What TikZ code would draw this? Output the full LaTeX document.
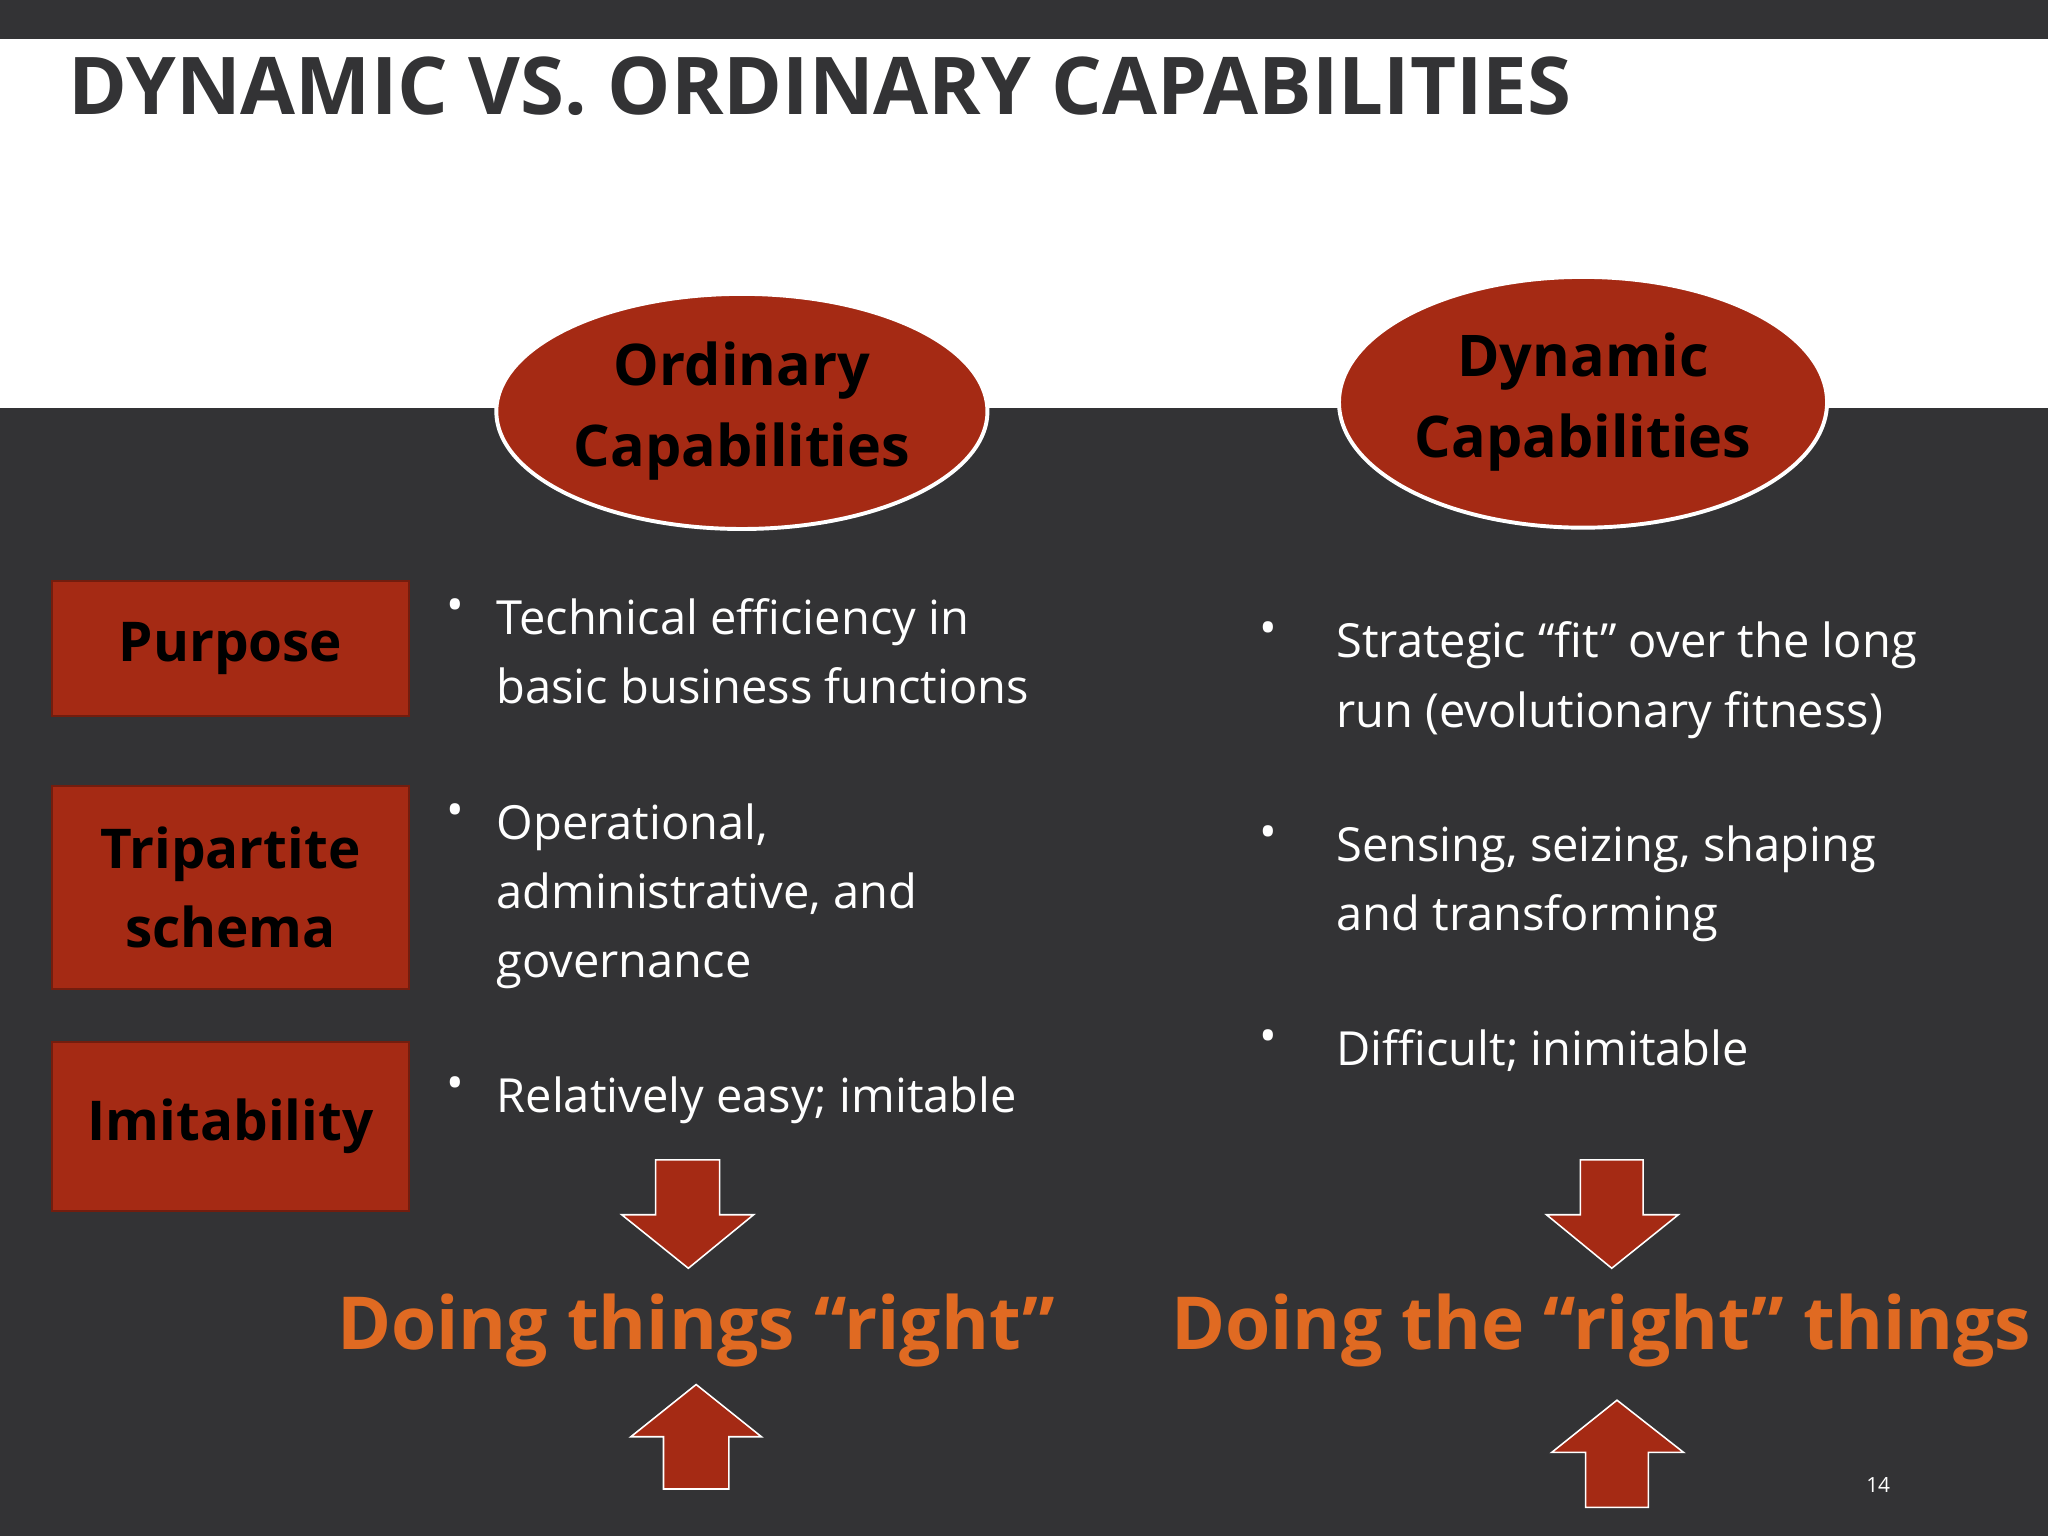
\documentclass[tikz,border=0pt]{standalone}
\usepackage{fontspec}
\setmainfont{Open Sans}
\usetikzlibrary{shapes.geometric}
\definecolor{dk}{HTML}{333335}
\definecolor{rb}{HTML}{A52A14}
\definecolor{og}{HTML}{E06A22}
\tikzset{
 ell/.style={draw=white,line width=3pt,fill=rb,ellipse,align=center,font=\fontsize{44}{62}\selectfont\bfseries,text=black},
 lbl/.style={draw=rb!70!black,line width=1.5pt,fill=rb,align=center,font=\fontsize{42}{60}\selectfont\bfseries,text=black,minimum width=273pt},
 bul/.style={anchor=north west,align=left,text=white,font=\fontsize{36}{53}\selectfont,inner sep=0pt},
 dot/.style={anchor=north west,text=white,font=\fontsize{36}{53}\selectfont,inner sep=0pt},
 arr/.style={fill=rb,draw=white,line width=1.2pt},
 big/.style={text=og,font=\fontsize{56}{60}\selectfont\bfseries}
}
\begin{document}
\begin{tikzpicture}[x=1pt,y=-1pt]
\useasboundingbox (0,0) rectangle (1568,1176);
\fill[dk] (0,0) rectangle (1568,30);
\fill[white] (0,30) rectangle (1568,312);
\fill[dk] (0,312) rectangle (1568,1176);
\node[anchor=base west,inner sep=0pt,text=dk,font=\fontsize{61}{61}\selectfont\bfseries] (title) at (52,88) {DYNAMIC VS. ORDINARY CAPABILITIES};
\node[ell,minimum width=376pt,minimum height=180pt] (oc) at (568,315) {Ordinary\\Capabilities};
\node[ell,minimum width=356pt,minimum height=192pt] (dc) at (1212,308) {Dynamic\\Capabilities};
\node[lbl,minimum height=103pt] (pur) at (176.5,496.5) {Purpose};
\node[lbl,minimum height=155pt] (tri) at (176.5,679.5) {Tripartite\\schema};
\node[lbl,minimum height=129pt] (imi) at (176.5,862.5) {Imitability};
% left bullets
\node[dot] (d1) at (342,458) {•};
\node[bul] (b1) at (380,458) {Technical efficiency in\\basic business functions};
\node[dot] (d2) at (342,615) {•};
\node[bul] (b2) at (380,615) {Operational,\\administrative, and\\governance};
\node[dot] (d3) at (342,824) {•};
\node[bul] (b3) at (380,824) {Relatively easy; imitable};
% right bullets
\node[dot] (e1) at (964,476) {•};
\node[bul] (c1) at (1023,476) {Strategic “fit” over the long\\run (evolutionary fitness)};
\node[dot] (e2) at (964,632) {•};
\node[bul] (c2) at (1023,632) {Sensing, seizing, shaping\\and transforming};
\node[dot] (e3) at (964,788) {•};
\node[bul] (c3) at (1023,788) {Difficult; inimitable};
% arrows
\draw[arr] (502,888)--(551,888)--(551,930)--(577,930)--(527,971)--(476,930)--(502,930)--cycle;
\draw[arr] (1210,888)--(1258,888)--(1258,930)--(1285,930)--(1234,971)--(1184,930)--(1210,930)--cycle;
\draw[arr] (508,1140)--(558,1140)--(558,1100)--(583,1100)--(533,1060)--(483,1100)--(508,1100)--cycle;
\draw[arr] (1214,1154)--(1262,1154)--(1262,1112)--(1289,1112)--(1238,1072)--(1188,1112)--(1214,1112)--cycle;
\node[big,anchor=base] (t1) at (533,1033) {Doing things “right”};
\node[big,anchor=base] (t2) at (1226,1033) {Doing the “right” things};
\node[anchor=base,text=white,font=\fontsize{16}{16}\selectfont] (pg) at (1438,1143) {14};
\end{tikzpicture}
\end{document}
